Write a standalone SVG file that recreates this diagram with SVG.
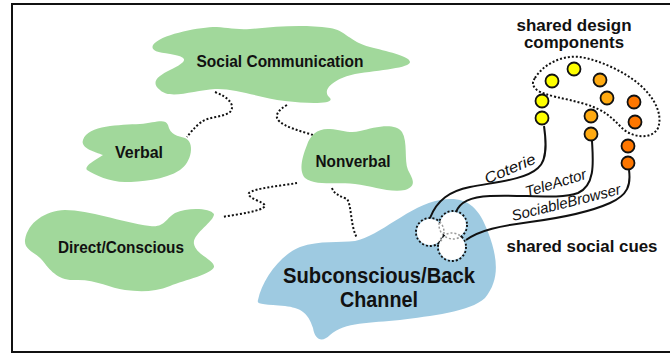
<svg xmlns="http://www.w3.org/2000/svg" width="670" height="356" viewBox="0 0 670 356">
<style>
.green{fill:#a1d89b}
.blue{fill:#9ecae1}
.lbl{font-family:"Liberation Sans",Arial,sans-serif;font-weight:bold;fill:#111;text-anchor:middle}
.it{font-family:"Liberation Sans",Arial,sans-serif;font-style:italic;font-size:15px;fill:#111}
.dot{fill:none;stroke:#111;stroke-width:2;stroke-dasharray:2 2}
.wire{fill:none;stroke:#111;stroke-width:2}
.c{stroke:#111;stroke-width:1.8}
</style>
<defs>
<clipPath id="inner">
<circle cx="430" cy="232" r="13"/>
<circle cx="453" cy="225" r="13"/>
<circle cx="452" cy="247" r="13"/>
</clipPath>
</defs>
<rect x="0" y="0" width="670" height="356" fill="#fff"/>
<rect x="12" y="4" width="670" height="348" fill="none" stroke="#111" stroke-width="2"/>

<g id="connectors">
<path class="dot" d="M215,92 C228,97 236,105 230,112 C222,118 208,116 200,123 C194,128 190,133 187,137"/>
<path class="dot" d="M287,105 C278,110 274,116 279,121 C285,127 300,131 313,135"/>
<path class="dot" d="M297,183 C280,186 255,188 249,193 C246,198 265,202 265,206 C262,211 240,214 222,217"/>
<path class="dot" d="M332,188 C334,194 340,196 347,199 C352,206 350,225 357,238"/>
</g>

<g id="social-communication">
<path class="green" d="M153,45 C160,35 195,28 213,27 C225,27 235,30 250,29 C275,27 300,24 330,28 C345,30 350,42 370,47 C385,51 410,56 410,62 C410,68 380,70 355,74 C335,78 320,90 330,98 C335,104 310,104 285,101 C260,98 235,88 215,89 C195,90 170,100 160,90 C150,82 158,76 170,70 C185,63 190,58 175,55 C160,52 150,52 153,45 Z"/>
<text class="lbl" x="280" y="67" font-size="17" textLength="167" lengthAdjust="spacingAndGlyphs">Social Communication</text>
</g>

<g id="verbal">
<path class="green" d="M83,140 C88,125 120,125 140,124 C155,123 165,118 168,125 C170,135 178,136 185,138 C195,142 192,162 180,170 C165,180 140,182 125,182 C110,182 95,175 87,170 C84,166 95,160 103,155 C95,152 80,148 83,140 Z"/>
<text class="lbl" x="139" y="158" font-size="17" textLength="48" lengthAdjust="spacingAndGlyphs">Verbal</text>
</g>

<g id="nonverbal">
<path class="green" d="M307,145 C310,135 318,128 330,129 C342,130 350,134 360,131 C375,127 395,122 402,132 C408,142 404,160 408,170 C412,178 418,186 405,190 C390,193 372,186 355,184 C335,182 315,186 305,178 C298,170 303,155 307,145 Z"/>
<text class="lbl" x="353" y="167" font-size="17" textLength="75" lengthAdjust="spacingAndGlyphs">Nonverbal</text>
</g>

<g id="direct-conscious">
<path class="green" d="M25,240 C28,222 45,211 65,210 C90,210 120,222 150,226 C165,228 166,218 175,213 C188,207 210,208 214,214 C214,222 192,234 194,244 C196,255 215,260 214,267 C212,274 185,280 170,286 C155,292 140,292 125,290 C110,288 95,279 75,280 C58,281 50,270 42,260 C35,252 24,250 25,240 Z"/>
<text class="lbl" x="121" y="253" font-size="17" textLength="126" lengthAdjust="spacingAndGlyphs">Direct/Conscious</text>
</g>

<g id="subconscious">
<path class="blue" d="M258,300 C262,280 280,255 300,247 C320,240 340,243 355,241 C380,236 410,205 440,200 C465,196 478,205 488,232 C498,258 500,280 485,298 C470,312 430,316 400,320 C370,323 345,322 330,335 C322,343 315,340 313,328 C308,312 300,308 285,306 C265,304 256,305 258,300 Z"/>
<text class="lbl" x="379" y="283" font-size="22" textLength="192" lengthAdjust="spacingAndGlyphs">Subconscious/Back</text>
<text class="lbl" x="379" y="307" font-size="22" textLength="78" lengthAdjust="spacingAndGlyphs">Channel</text>
</g>

<g id="wires">
<path class="wire" d="M544,126 C546,140 548,160 538,168 C525,180 495,182 470,187 C450,191 437,200 430,218"/>
<path class="wire" d="M592,141 C593,160 596,185 578,193 C560,200 520,194 490,196 C470,197 460,202 456,212"/>
<path class="wire" d="M629,170 C631,185 628,195 610,203 C590,212 560,218 530,222 C500,226 480,230 466,240"/>
<text class="it" transform="translate(487,184) rotate(-23)" textLength="54" lengthAdjust="spacingAndGlyphs">Coterie</text>
<text class="it" transform="translate(527,197) rotate(-17)" textLength="63" lengthAdjust="spacingAndGlyphs">TeleActor</text>
<text class="it" transform="translate(513,221) rotate(-14)" textLength="112" lengthAdjust="spacingAndGlyphs">SociableBrowser</text>
</g>

<g id="shared-social-cues">
<circle cx="430" cy="232" r="14" class="dot"/>
<circle cx="453" cy="225" r="14" class="dot"/>
<circle cx="452" cy="247" r="14" class="dot"/>
<circle cx="430" cy="232" r="13" fill="#fff"/>
<circle cx="453" cy="225" r="13" fill="#fff"/>
<circle cx="452" cy="247" r="13" fill="#fff"/>
<g clip-path="url(#inner)">
<circle cx="430" cy="232" r="14" fill="none" stroke="#999" stroke-width="1.5" stroke-dasharray="2 2"/>
<circle cx="453" cy="225" r="14" fill="none" stroke="#999" stroke-width="1.5" stroke-dasharray="2 2"/>
<circle cx="452" cy="247" r="14" fill="none" stroke="#999" stroke-width="1.5" stroke-dasharray="2 2"/>
</g>
<text class="lbl" x="582" y="252" font-size="17" textLength="151" lengthAdjust="spacingAndGlyphs">shared social cues</text>
</g>

<g id="shared-design-components">
<path class="dot" d="M535,78 C545,62 565,55 580,57 C600,60 625,72 640,85 C655,98 663,115 658,128 C652,140 632,138 622,128 C612,118 605,110 585,104 C565,98 545,96 537,90 C532,86 532,82 535,78 Z"/>
<circle class="c" cx="552" cy="81" r="6.5" fill="#ffff00"/>
<circle class="c" cx="574" cy="69" r="6.5" fill="#ffff00"/>
<circle class="c" cx="600" cy="80" r="6.5" fill="#ffaa11"/>
<circle class="c" cx="607" cy="98" r="6.5" fill="#ffaa11"/>
<circle class="c" cx="634" cy="102" r="6.5" fill="#ff7700"/>
<circle class="c" cx="635" cy="122" r="6.5" fill="#ff7700"/>
<circle class="c" cx="542" cy="101" r="6.5" fill="#ffff00"/>
<circle class="c" cx="542" cy="118" r="6.5" fill="#ffff00"/>
<circle class="c" cx="591" cy="116" r="6.5" fill="#ffaa11"/>
<circle class="c" cx="591" cy="134" r="6.5" fill="#ffaa11"/>
<circle class="c" cx="628" cy="146" r="6.5" fill="#ff7700"/>
<circle class="c" cx="628" cy="163" r="6.5" fill="#ff7700"/>
<text class="lbl" x="574" y="31" font-size="16" textLength="115" lengthAdjust="spacingAndGlyphs">shared design</text>
<text class="lbl" x="574" y="48" font-size="16" textLength="100" lengthAdjust="spacingAndGlyphs">components</text>
</g>
</svg>
